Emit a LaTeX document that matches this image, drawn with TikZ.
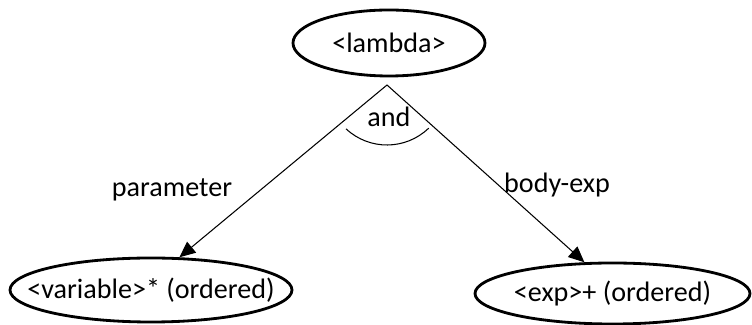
\documentclass[tikz,border=0pt]{standalone}
\usepackage{fontspec}
\setmainfont{Carlito}
\usetikzlibrary{shapes.geometric,arrows.meta}

\begin{document}
\begin{tikzpicture}[every node/.style={font=\fontsize{16}{19}\selectfont},
  term/.style={shape=ellipse, draw, line width=1.6pt, inner sep=0pt},
  link/.style={-{Triangle[length=9pt,width=8pt]}, line width=0.6pt}]
\useasboundingbox (0,0) rectangle (15.04,6.5);

\path (7.78,5.64) node (lambda) [term, minimum width=3.84cm, minimum height=1.32cm] {\makebox[0pt]{<lambda>}};
\path (3.02,0.70) node (var) [term, minimum width=5.64cm, minimum height=1.28cm] {\makebox[0pt]{<variable>* (ordered)}};
\path (12.25,0.63) node (exp) [term, minimum width=5.50cm, minimum height=1.22cm] {\makebox[0pt]{<exp>+ (ordered)}};
\coordinate (fork) at (7.74,4.80);

\draw [link] (fork) to (var.49);
\draw [link] (fork) to (exp.132);

% and-arc
\draw [line width=0.6pt] (fork) ++(-133:1.2) arc [start angle=-133, end angle=-46, radius=1.2];
\path (7.78,4.16) node (and) {and};

\path (3.44,2.70) node (param) {parameter};
\path (11.14,2.80) node (body) {body-exp};

\end{tikzpicture}
\end{document}
